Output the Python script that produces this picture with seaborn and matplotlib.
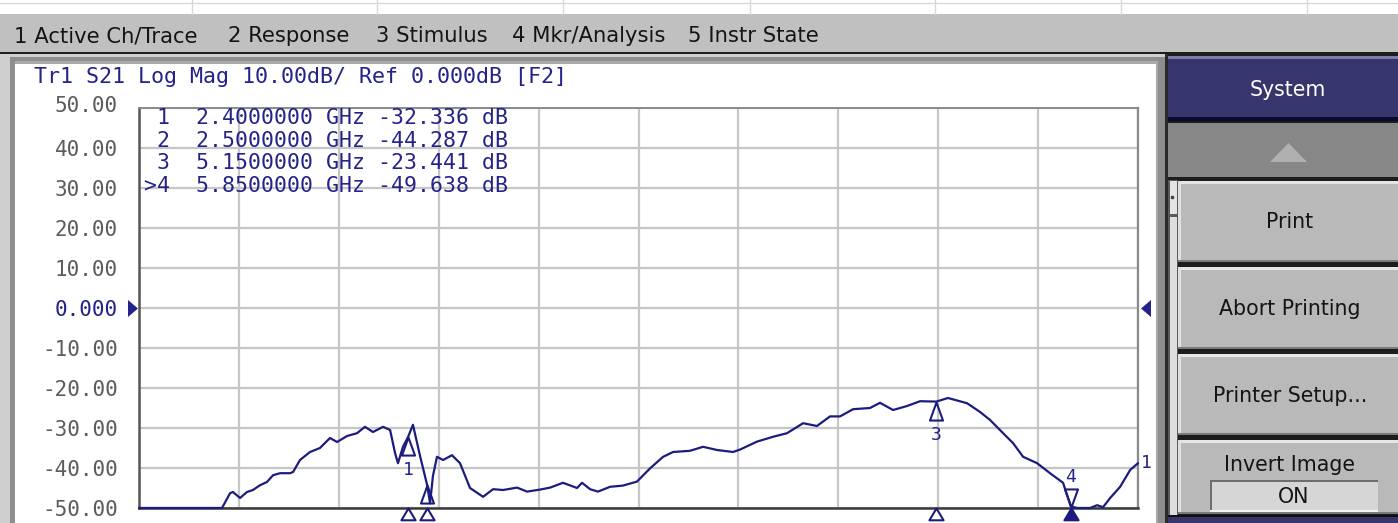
import numpy as np
import pandas as pd
import matplotlib
matplotlib.use("Agg")
import matplotlib.pyplot as plt
import seaborn as sns
from matplotlib.patches import Rectangle, Polygon
from matplotlib.path import Path
from matplotlib.markers import MarkerStyle
from matplotlib.transforms import ScaledTranslation

sns.set_theme(style="white")
plt.rcParams['font.family'] = ['DejaVu Sans']

# ---------------- data ----------------
freq_ghz = [1.000, 1.354, 1.432, 1.474, 1.489, 1.526, 1.562, 1.593, 1.630, 1.666,
            1.698, 1.734, 1.786, 1.802, 1.838, 1.890, 1.942, 1.994, 2.031, 2.083,
            2.135, 2.176, 2.218, 2.270, 2.307, 2.333, 2.348, 2.374, 2.400, 2.426,
            2.463, 2.500, 2.515, 2.530, 2.551, 2.583, 2.629, 2.671, 2.723, 2.791,
            2.843, 2.895, 2.968, 3.020, 3.087, 3.140, 3.207, 3.280, 3.306, 3.348,
            3.389, 3.452, 3.519, 3.592, 3.660, 3.728, 3.780, 3.868, 3.936, 4.009,
            4.092, 4.128, 4.217, 4.300, 4.373, 4.457, 4.529, 4.597, 4.649, 4.717,
            4.805, 4.857, 4.925, 4.998, 5.066, 5.150, 5.211, 5.310, 5.378, 5.430,
            5.498, 5.550, 5.602, 5.675, 5.742, 5.810, 5.850, 5.883, 5.951, 5.987,
            6.018, 6.055, 6.107, 6.159, 6.200]
s21_db = [-50.0, -50.0, -50.0, -46.3, -46.0, -47.5, -46.0, -45.5, -44.3, -43.5,
          -41.8, -41.3, -41.3, -41.0, -38.0, -36.0, -35.0, -32.5, -33.5, -32.0,
          -31.3, -29.7, -31.0, -29.7, -30.5, -36.3, -38.8, -34.7, -32.3, -29.2,
          -37.0, -44.3, -48.8, -42.0, -37.2, -38.0, -36.8, -38.8, -45.0, -47.2,
          -45.3, -45.5, -44.9, -45.9, -45.4, -44.9, -43.7, -45.0, -43.7, -45.3,
          -45.9, -44.7, -44.4, -43.4, -40.1, -37.2, -36.0, -35.7, -34.7, -35.5,
          -36.0, -35.4, -33.4, -32.2, -31.3, -28.8, -29.5, -27.1, -27.1, -25.3,
          -25.0, -23.7, -25.5, -24.5, -23.3, -23.4, -22.5, -23.8, -26.0, -28.0,
          -31.3, -33.8, -37.2, -38.8, -41.3, -43.7, -49.6, -50.0, -50.0, -49.3,
          -49.8, -47.5, -44.7, -40.5, -38.8]

marker_ids = ["1", "2", "3", "4"]
marker_freq = [2.4, 2.5, 5.15, 5.85]
marker_db = [-32.336, -44.287, -23.441, -49.638]
active_marker = "4"

y_ticks = [50, 40, 30, 20, 10, 0, -10, -20, -30, -40, -50]
y_tick_labels = ["50.00", "40.00", "30.00", "20.00", "10.00", "0.000",
                 "-10.00", "-20.00", "-30.00", "-40.00", "-50.00"]
f_start, f_stop = 1.0, 6.2

header = "Tr1 S21 Log Mag 10.00dB/ Ref 0.000dB [F2]"
menu_items = ["1 Active Ch/Trace", "2 Response", "3 Stimulus", "4 Mkr/Analysis", "5 Instr State"]
menu_x = [14, 228, 376, 512, 688]
softkey_title = "System"
softkeys = ["Print", "Abort Printing", "Printer Setup...", "Invert Image"]
invert_state = "ON"

# ---------------- colours ----------------
NAVY = "#23238a"
TRACE = "#1c1c7e"
GRID = "#c6c6c6"
TICKC = "#5c5c5c"
BTN = "#b9b9b9"
SYS = "#36366c"

W, H = 1398, 523
fig = plt.figure(figsize=(W / 100, H / 100), dpi=100)
bg = fig.add_axes([0, 0, 1, 1], zorder=0)
bg.set_xlim(0, W)
bg.set_ylim(H, 0)
bg.axis("off")


def rect(x, y, w, h, c, **kw):
    bg.add_patch(Rectangle((x, y), w, h, facecolor=c, edgecolor="none", **kw))


# top strip (spreadsheet cells)
rect(0, 0, W, 14, "white")
bg.plot([0, W], [3, 3], color="#d8d8d8", lw=1)
for xv in [192, 377, 563, 750, 935, 1121, 1307]:
    bg.plot([xv, xv], [0, 14], color="#d8d8d8", lw=1)

# menu bar
rect(0, 14, W, 39, "#c0c0c0")
rect(0, 52, W, 2.5, "#1e1e1e")
for txt, xv in zip(menu_items, menu_x):
    bg.text(xv, 36, txt, fontsize=15.2, color="#141414", va="center", ha="left")

# chart panel
rect(0, 54, 1168, H - 54, "#cfcfcf")
rect(10, 57, 1157, H - 57, "#8e8e8e")
rect(15, 61, 1143, H - 61, "#a9a9a9")
rect(15, 64, 1141, H - 64, "white")
rect(1165, 54, 3, H - 54, "#2a2a2a")

# right softkey panel
rect(1168, 54, W - 1168, H - 54, "#1c1c1c")
rect(1168, 56, W - 1168, 64, SYS)
rect(1168, 56, W - 1168, 2.5, "#7c7cac")
rect(1168, 117, W - 1168, 4, "#0a0a2e")
bg.text(1288, 90, softkey_title, fontsize=14.8, color="white", ha="center", va="center")
rect(1168, 123, W - 1168, 54, "#878787")
bg.add_patch(Polygon([(1270, 162), (1307, 162), (1288.5, 143)], closed=True,
                     facecolor="#b0b0b0", edgecolor="none"))
# scroll strip
rect(1168, 180, 10, H - 180, "#5a5a5a")
rect(1169.5, 181, 7, 33, "#e4e4e4")
rect(1169.5, 217, 7, H - 217, "#dedede")
bg.plot([1172], [197], marker="s", ms=1.5, color="#444444")

btn_top = [181, 267, 354, 440]
btn_bot = [262, 349, 435, 514]
for lbl, t, b in zip(softkeys, btn_top, btn_bot):
    rect(1178, t, W - 1178, b - t, BTN)
    rect(1178, t, W - 1178, 2.5, "#e6e6e6")
    rect(1178, t, 2.5, b - t, "#e0e0e0")
    rect(1178, b - 2, W - 1178, 2, "#7a7a7a")
    if lbl == "Invert Image":
        bg.text(1290, 465, lbl, fontsize=14.8, color="#141414", ha="center", va="center")
    else:
        bg.text(1290, (t + b) / 2 + 1, lbl, fontsize=14.8, color="#141414",
                ha="center", va="center")
# ON box
rect(1210, 480, 168, 32, "#d6d6d6")
rect(1210, 480, 168, 2, "#6e6e6e")
rect(1210, 480, 2, 32, "#6e6e6e")
rect(1210, 510, 168, 2, "#f4f4f4")
bg.text(1294, 497, invert_state, fontsize=14.8, color="#141414", ha="center", va="center")
rect(1168, 515, W - 1168, 2.5, "#101010")
rect(1168, 517, W - 1168, H - 517, SYS)

MONO = "DejaVu Sans Mono"
bg.text(34, 77, header, fontsize=15.6, family=MONO, color=NAVY, va="center", ha="left")

# ---------------- main trace axes ----------------
ax = fig.add_axes([139 / W, (H - 508) / H, 999 / W, 400 / H], zorder=2)
ax.set_facecolor("white")
df = pd.DataFrame({"freq": freq_ghz, "db": s21_db})
sns.lineplot(data=df, x="freq", y="db", ax=ax, color=TRACE, lw=1.6,
             estimator=None, sort=True, clip_on=False, zorder=4)
ax.set_xlim(f_start, f_stop)
ax.set_ylim(-50, 50)
ax.set_xticks(np.linspace(f_start, f_stop, 11))
ax.set_xticklabels([])
ax.set_yticks(y_ticks)
ax.set_yticklabels(y_tick_labels)
ax.set_xlabel("")
ax.set_ylabel("")
ax.tick_params(axis="both", length=0)
ax.tick_params(axis="y", pad=15.1)
for lab in ax.get_yticklabels():
    lab.set_fontfamily(MONO)
    lab.set_fontsize(15)
    lab.set_color(NAVY if lab.get_text() == "0.000" else TICKC)
    if lab.get_text() == "50.00":
        lab.set_transform(lab.get_transform() + ScaledTranslation(0, 4 / 100, fig.dpi_scale_trans))
ax.grid(True, color=GRID, lw=1.6)
ax.set_axisbelow(True)
for side, c, lw in [("left", "#555555", 1.8), ("bottom", "#3a3a3a", 1.8),
                    ("top", "#8a8a8a", 1.4), ("right", "#8a8a8a", 1.6)]:
    ax.spines[side].set_visible(True)
    ax.spines[side].set_color(c)
    ax.spines[side].set_linewidth(lw)

# overlay (pixel coordinates) for text drawn over the grid
ov = fig.add_axes([0, 0, 1, 1], zorder=5)
ov.set_xlim(0, W)
ov.set_ylim(H, 0)
ov.axis("off")
ov.patch.set_alpha(0)

# reference arrows
ov.add_patch(Polygon([(128, 300), (128, 317), (138, 308.5)], closed=True,
                     facecolor=NAVY, edgecolor="none"))
ov.add_patch(Polygon([(1151, 300), (1151, 317), (1141, 308.5)], closed=True,
                     facecolor=NAVY, edgecolor="none"))

# marker table
for i, (mid, mf, md) in enumerate(zip(marker_ids, marker_freq, marker_db)):
    prefix = ">" if mid == active_marker else " "
    row = f"{prefix}{mid}  {mf:.7f} GHz {md:.3f} dB"
    ov.text(144, 118 + i * 22.7, row, fontsize=15.5, family=MONO, color=NAVY,
            va="center", ha="left")

# marker symbols on the trace
tri_up = MarkerStyle(Path([(0, 0), (-0.36, -1), (0.36, -1), (0, 0)],
                          [Path.MOVETO, Path.LINETO, Path.LINETO, Path.CLOSEPOLY]))
tri_dn = MarkerStyle(Path([(0, 0), (-0.36, 1), (0.36, 1), (0, 0)],
                          [Path.MOVETO, Path.LINETO, Path.LINETO, Path.CLOSEPOLY]))
tri_bot = MarkerStyle(Path([(0, 0), (-0.6, -1), (0.6, -1), (0, 0)],
                           [Path.MOVETO, Path.LINETO, Path.LINETO, Path.CLOSEPOLY]))
for mid, mf, md in zip(marker_ids, marker_freq, marker_db):
    active = mid == active_marker
    ax.plot([mf], [md], marker=tri_dn if active else tri_up, ms=26, mew=1.5,
            mec=TRACE, mfc="none", ls="none", clip_on=False, zorder=6)
    ax.plot([mf], [-50], marker=tri_bot, ms=17, mew=1.5, mec=TRACE,
            mfc=TRACE if active else "white", ls="none", clip_on=False, zorder=6)
    if mid != "2":
        dy = 30 if active else -33
        ax.annotate(mid, (mf, md), xytext=(0, dy), textcoords="offset pixels",
                    ha="center", va="center", fontsize=13, family=MONO,
                    color=NAVY, annotation_clip=False, zorder=6)

# trace number at right end
ax.annotate("1", (freq_ghz[-1], s21_db[-1]), xytext=(3, 0), textcoords="offset pixels",
            ha="left", va="center", fontsize=13, family=MONO, color=NAVY,
            annotation_clip=False)

fig.savefig("out.png", dpi=100)
